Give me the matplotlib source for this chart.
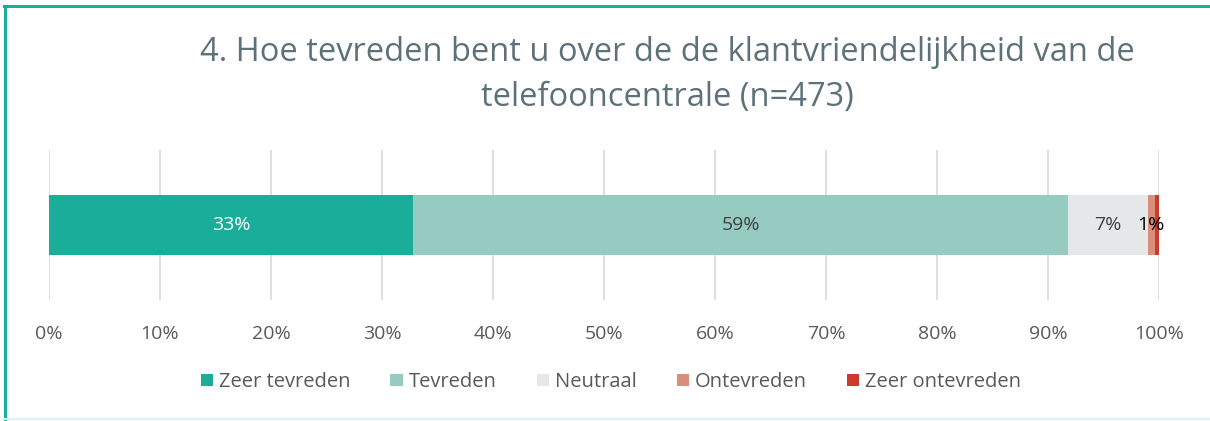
import matplotlib.pyplot as plt
from matplotlib.lines import Line2D

plt.rcParams['font.family'] = ['Open Sans', 'DejaVu Sans']

# Data
categories = ['Zeer tevreden', 'Tevreden', 'Neutraal', 'Ontevreden', 'Zeer ontevreden']
shares = [32.8, 59.0, 7.2, 0.6, 0.4]
labels = ['33%', '59%', '7%', '1%', '']
colors = ['#1aae9a', '#96cbc1', '#e4e8e9', '#d98f7b', '#cc3a2e']
label_colors = ['white', '#404040', '#404040', 'black', 'black']
ticks = [0, 10, 20, 30, 40, 50, 60, 70, 80, 90, 100]

fig = plt.figure(figsize=(12.1, 4.21), dpi=100)
ax = fig.add_axes([49 / 1210, 1 - 300 / 421, 1110 / 1210, 150 / 421])

left = 0
for cat, val, lab, col, lcol in zip(categories, shares, labels, colors, label_colors):
    ax.barh(0, val, left=left, height=0.4, color=col, label=cat, zorder=3)
    if lab:
        ax.text(left + val / 2, 0, lab, ha='center', va='center',
                fontsize=14, color=lcol, zorder=4)
    left += val

ax.set_xlim(0, 100)
ax.set_ylim(-0.5, 0.5)
ax.set_xticks(ticks)
ax.set_xticklabels([f'{t}%' for t in ticks], fontsize=14, color='#595959')
ax.set_yticks([])
ax.tick_params(axis='x', length=0, pad=18)
ax.grid(axis='x', color='#d9d9d9', linewidth=1.2, zorder=0)
for s in ax.spines.values():
    s.set_visible(False)

fig.text(667 / 1210, 1 - 75 / 421,
         '4. Hoe tevreden bent u over de de klantvriendelijkheid van de\ntelefooncentrale (n=473)',
         ha='center', va='center', fontsize=23.5, color='#5d7178', linespacing=1.45)

leg = fig.legend(loc='center', bbox_to_anchor=(611 / 1210, 1 - 382 / 421), ncol=5,
                 frameon=False, fontsize=14.5, handlelength=0.6, handleheight=0.6,
                 handletextpad=0.3, columnspacing=2.0)
for t in leg.get_texts():
    t.set_color('#595959')

# chart frame: teal top and left, faint bottom
fig.add_artist(Line2D([4 / 1210, 1], [1 - 5.5 / 421] * 2, transform=fig.transFigure,
                      color='#1aae9a', linewidth=2.2))
fig.add_artist(Line2D([4.5 / 1210] * 2, [0, 1 - 5.5 / 421], transform=fig.transFigure,
                      color='#1aae9a', linewidth=2.2))
fig.add_artist(Line2D([4 / 1210, 1], [2 / 421] * 2, transform=fig.transFigure,
                      color='#dcf3ef', linewidth=1.5))

fig.savefig('out.png', dpi=100)
